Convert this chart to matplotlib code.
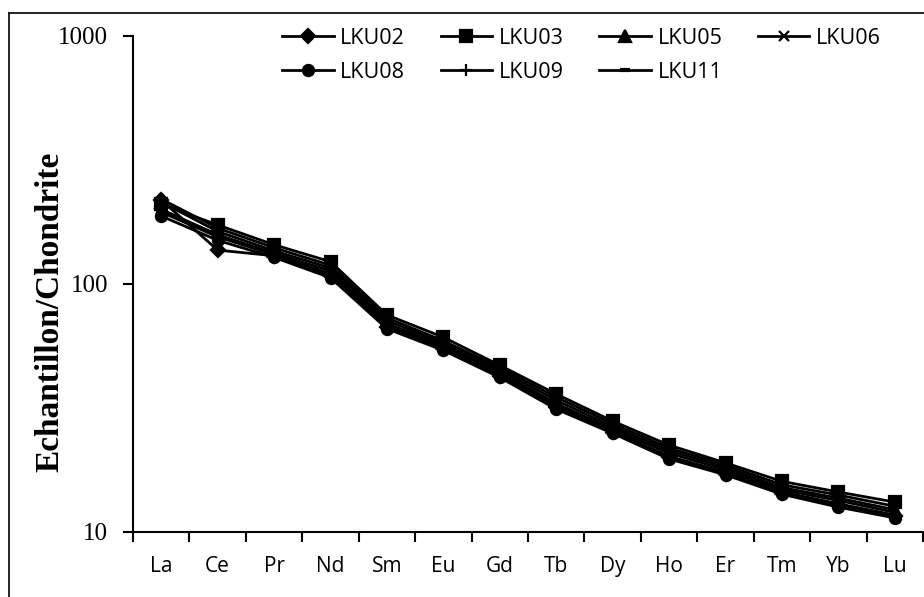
import matplotlib.pyplot as plt
from matplotlib.lines import Line2D

# REE pattern, normalised to chondrite
elements = ['La', 'Ce', 'Pr', 'Nd', 'Sm', 'Eu', 'Gd', 'Tb', 'Dy', 'Ho', 'Er', 'Tm', 'Yb', 'Lu']

lku02 = [218, 137, 130, 108, 67, 55, 42.5, 32, 25.3, 20.0, 17.2, 14.4, 12.9, 11.6]
lku03 = [210, 173, 144, 123, 75, 61, 47, 36, 28, 22.4, 19.0, 16.0, 14.5, 13.2]
lku05 = [214, 163, 136, 116, 71, 58, 45, 34, 26.6, 21.3, 18.2, 15.1, 13.7, 12.3]
lku06 = [200, 158, 133, 113, 69, 57, 44, 33, 26.0, 20.8, 17.8, 14.8, 13.4, 12.0]
lku08 = [188, 150, 128, 106, 66, 54, 42, 31.3, 25.0, 19.7, 17.0, 14.2, 12.6, 11.4]
lku09 = [220, 168, 140, 119, 73, 59, 46, 35, 27.3, 21.8, 18.6, 15.5, 14.1, 12.7]
lku11 = [195, 155, 131, 110, 68, 56, 43, 32.5, 25.5, 20.2, 17.4, 14.5, 13.0, 11.7]

series = [
    ('LKU02', lku02, 'D', 7.5),
    ('LKU03', lku03, 's', 8),
    ('LKU05', lku05, '^', 8),
    ('LKU06', lku06, 'x', 6.5),
    ('LKU08', lku08, 'o', 8),
    ('LKU09', lku09, '+', 9),
    ('LKU11', lku11, '_', 7),
]

fig = plt.figure(figsize=(9.24, 5.97), dpi=100)
ax = fig.add_axes([133 / 924, 1 - 532 / 597, 790 / 924, 496 / 597])

x = list(range(len(elements)))
handles = {}
for name, vals, mk, ms in series:
    mew = 3 if mk == '_' else 1.6
    h, = ax.plot(x, vals, color='black', lw=2, marker=mk, ms=ms,
                 mfc='black', mec='black', mew=mew, label=name)
    handles[name] = h

ax.set_yscale('log')
ax.set_ylim(10, 1000)
ax.set_xlim(-0.5, len(elements) - 0.5)

# category boundaries get the tick marks, labels sit in between
ax.set_xticks([i - 0.5 for i in range(len(elements) + 1)])
ax.set_xticklabels([])
ax.set_xticks(x, minor=True)
ax.set_xticklabels(elements, minor=True, family='Open Sans', fontsize=15)
ax.tick_params(axis='x', which='major', direction='out', length=7, width=1.5)
ax.tick_params(axis='x', which='minor', length=0, pad=17)

ax.set_yticks([10, 100, 1000])
ax.set_yticklabels(['10', '100', '1000'], family='Liberation Serif', fontsize=18)
ax.yaxis.set_minor_locator(plt.NullLocator())
ax.tick_params(axis='y', direction='out', length=7, width=1.5, pad=11)

for s in ['top', 'right']:
    ax.spines[s].set_visible(False)
for s in ['left', 'bottom']:
    ax.spines[s].set_linewidth(1.5)

fig.text(50 / 924, 1 - 312 / 597, 'Echantillon/Chondrite', rotation=90,
         family='Liberation Serif', fontweight='bold', fontsize=24,
         ha='center', va='center')

# legend: row-wise order for 4 columns
order = ['LKU02', 'LKU08', 'LKU03', 'LKU09', 'LKU05', 'LKU11', 'LKU06']
leg = fig.legend([handles[n] for n in order], order, ncol=4, frameon=False,
                 loc='upper left', bbox_to_anchor=(282 / 924, 1 - 28 / 597),
                 borderpad=0, borderaxespad=0, handlelength=2.4,
                 handletextpad=0.3, columnspacing=1.65, labelspacing=0.6,
                 numpoints=1, prop={'family': 'Open Sans', 'size': 15.5})

# outer chart frame (clipped by the image edges)
fig.add_artist(Line2D([9 / 924, 9 / 924], [0, 1 - 12.5 / 597], transform=fig.transFigure,
                      color='black', lw=1.2))
fig.add_artist(Line2D([9 / 924, 1], [1 - 12.5 / 597, 1 - 12.5 / 597], transform=fig.transFigure,
                      color='black', lw=1.2))

plt.savefig('out.png', dpi=100)
